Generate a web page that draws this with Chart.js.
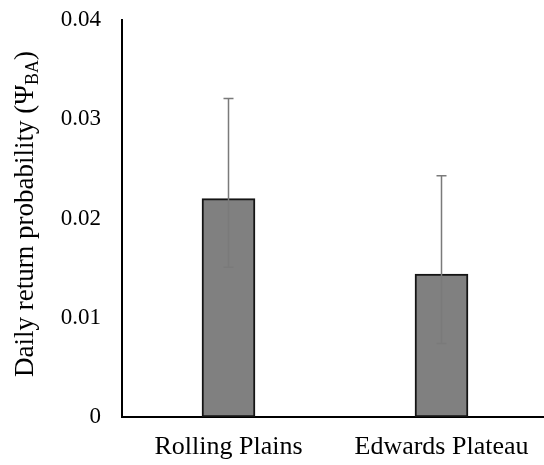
<!DOCTYPE html>
<html>
<head>
<meta charset="utf-8">
<script src="https://cdn.jsdelivr.net/npm/chart.js@4.4.0/dist/chart.umd.min.js"></script>
<style>
html,body{margin:0;padding:0;background:#fff;overflow:hidden;}
#wrap{width:548px;height:465px;position:relative;}
</style>
</head>
<body>
<div id="wrap"><canvas id="c" width="548" height="465"></canvas></div>
<script>
const categories = ['Rolling Plains', 'Edwards Plateau'];
const values = [0.0220, 0.0144];
const upperErr = [0.0321, 0.0243];
const lowerErr = [0.0151, 0.0074];
const yTicks = [0, 0.01, 0.02, 0.03, 0.04];
const yTitleMain = 'Daily return probability (\u03A8';
const yTitleSub = 'BA';
const yTitleEnd = ')';

const FONT = '"Liberation Serif", "Times New Roman", serif';

const errorBars = {
  id: 'errorBars',
  afterDatasetsDraw(chart) {
    const ctx = chart.ctx;
    const meta = chart.getDatasetMeta(0);
    const ys = chart.scales.y;
    ctx.save();
    ctx.strokeStyle = '#7a7a7a';
    ctx.lineWidth = 1.5;
    meta.data.forEach((bar, i) => {
      const x = bar.x;
      const yu = ys.getPixelForValue(upperErr[i]);
      const yl = ys.getPixelForValue(lowerErr[i]);
      ctx.beginPath();
      ctx.moveTo(x, yu); ctx.lineTo(x, yl);
      ctx.moveTo(x - 5, yu); ctx.lineTo(x + 5, yu);
      ctx.moveTo(x - 5, yl); ctx.lineTo(x + 5, yl);
      ctx.stroke();
    });
    ctx.restore();
  }
};

const yTitle = {
  id: 'yTitle',
  afterDraw(chart) {
    const ctx = chart.ctx;
    ctx.save();
    const mainFont = '27px ' + FONT;
    const subFont = '18px ' + FONT;
    ctx.font = mainFont;
    const w1 = ctx.measureText(yTitleMain).width;
    const w3 = ctx.measureText(yTitleEnd).width;
    ctx.font = subFont;
    const w2 = ctx.measureText(yTitleSub).width;
    const total = w1 + w2 + w3;
    const cy = 214;
    ctx.translate(33, cy);
    ctx.rotate(-Math.PI / 2);
    ctx.fillStyle = '#000';
    ctx.textBaseline = 'alphabetic';
    ctx.textAlign = 'left';
    let x = -total / 2;
    ctx.font = mainFont;
    ctx.fillText(yTitleMain, x, 0);
    x += w1;
    ctx.font = subFont;
    ctx.fillText(yTitleSub, x, 5);
    x += w2;
    ctx.font = mainFont;
    ctx.fillText(yTitleEnd, x, 0);
    ctx.restore();
  }
};

new Chart(document.getElementById('c'), {
  type: 'bar',
  data: {
    labels: categories,
    datasets: [{
      data: values,
      backgroundColor: '#808080',
      borderColor: '#141414',
      borderWidth: 2,
      borderSkipped: false,
      barThickness: 53
    }]
  },
  options: {
    responsive: false,
    animation: false,
    devicePixelRatio: 1,
    layout: { padding: { top: 20, right: 0, left: 0, bottom: 0 } },
    plugins: { legend: { display: false }, tooltip: { enabled: false } },
    scales: {
      x: {
        grid: { display: false, drawTicks: false },
        border: { display: true, color: '#000', width: 2 },
        ticks: { color: '#000', font: { family: FONT, size: 26 }, padding: 15, maxRotation: 0 },
        afterFit(s) { s.height = 48; s.paddingLeft = 0; s.paddingRight = 0; }
      },
      y: {
        min: 0, max: 0.04,
        afterBuildTicks(s) { s.ticks = yTicks.map(v => ({ value: v })); },
        grid: { display: false, drawTicks: false },
        border: { display: true, color: '#000', width: 2 },
        ticks: {
          color: '#000', font: { family: FONT, size: 23 }, padding: 21,
          callback: v => v === 0 ? '0' : v.toFixed(2)
        },
        afterFit(s) { s.width = 122; s.paddingTop = 0; s.paddingBottom = 0; }
      }
    }
  },
  plugins: [errorBars, yTitle]
});
</script>
</body>
</html>
